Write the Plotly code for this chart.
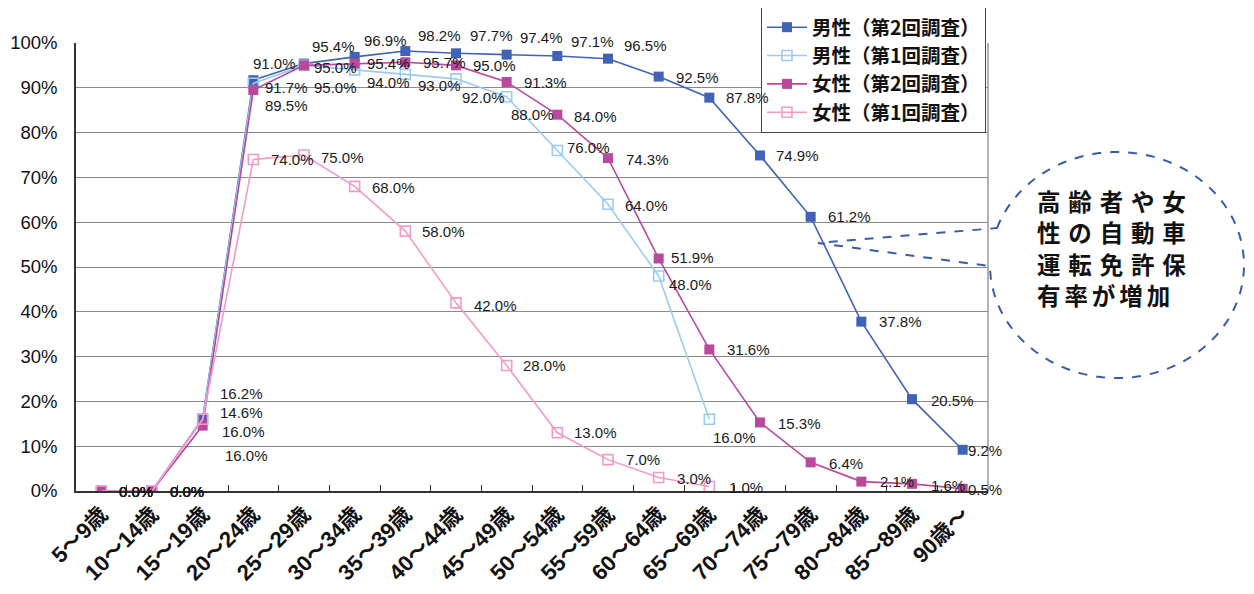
import numpy as np
import plotly.graph_objects as go

# ---------------- data ----------------
categories = ["5～9歳", "10～14歳", "15～19歳", "20～24歳", "25～29歳", "30～34歳",
              "35～39歳", "40～44歳", "45～49歳", "50～54歳", "55～59歳", "60～64歳",
              "65～69歳", "70～74歳", "75～79歳", "80～84歳", "85～89歳", "90歳～"]
male_2nd = [0.0, 0.0, 16.2, 91.7, 95.4, 96.9, 98.2, 97.7, 97.4, 97.1, 96.5, 92.5,
            87.8, 74.9, 61.2, 37.8, 20.5, 9.2]
male_1st = [0.0, 0.0, 16.0, 91.0, 95.0, 94.0, 93.0, 92.0, 88.0, 76.0, 64.0, 48.0, 16.0]
female_2nd = [0.0, 0.0, 14.6, 89.5, 95.0, 95.4, 95.7, 95.0, 91.3, 84.0, 74.3, 51.9,
              31.6, 15.3, 6.4, 2.1, 1.6, 0.5]
female_1st = [0.0, 0.0, 16.0, 74.0, 75.0, 68.0, 58.0, 42.0, 28.0, 13.0, 7.0, 3.0, 1.0]
series_names = ["男性（第2回調査）", "男性（第1回調査）", "女性（第2回調査）", "女性（第1回調査）"]
y_tick_values = [0, 10, 20, 30, 40, 50, 60, 70, 80, 90, 100]
callout_lines = ["高齢者や女", "性の自動車", "運転免許保", "有率が増加"]

# ---------------- styling / label placement (screen pixels) ----------------
OFF = 8                      # default page body margin
W, H = 1254 - OFF, 594 - OFF
PLOT_L, PLOT_R, PLOT_T, PLOT_B = 76, 988, 43, 491   # target plot box on screen
L, T = PLOT_L - OFF, PLOT_T - OFF
R, B = W - (PLOT_R - OFF), H - (PLOT_B - OFF)
PW, PH = PLOT_R - PLOT_L, PLOT_B - PLOT_T

def px2paper(px, py):
    return (px - PLOT_L) / PW, (PLOT_B - py) / PH

colors = ["#4062B7", "#9CCBEE", "#B9499C", "#F39AC7"]
symbols = ["square", "square-open", "square", "square-open"]

# label offsets (dx right, dy down) relative to the marker, default (15, 0)
offs_m2 = {0: (17, 0), 1: (17, 0), 2: (16, -25), 3: (11, 7), 4: (7, -17), 5: (8, -16),
           6: (12, -16), 7: (13, -18), 8: (12, -17), 9: (13, -14), 10: (15, -13),
           11: (16, 1), 12: (16, 0), 13: (15, 0), 14: (16, 0), 15: (17, 0), 16: (18, 1),
           17: (4, 1)}
offs_m1 = {0: (17, 0), 1: (17, 0), 2: (18, 12), 3: (-1, -20), 4: (9, 22), 5: (11, 13),
           6: (12, 11), 7: (5, 19), 8: (3, 18), 9: (9, -3), 10: (16, 1), 11: (9, 9),
           12: (3, 18)}
offs_f2 = {0: (17, 0), 1: (17, 0), 2: (16, -13), 3: (11, 15), 4: (9, 2), 5: (11, 0),
           6: (17, 0), 7: (16, 0), 8: (16, 1), 9: (16, 2), 10: (17, 1), 11: (11, -1),
           12: (17, 0), 13: (17, 1), 14: (17, 1), 15: (18, 0), 16: (18, 2), 17: (4, 1)}
offs_f1 = {0: (17, 0), 1: (17, 0), 2: (21, 36), 3: (17, 0), 4: (16, 2), 5: (16, 1),
           6: (16, 0), 7: (17, 3), 8: (15, 0), 9: (16, 0), 10: (17, 0), 11: (17, 1),
           12: (19, 1)}

all_series = [male_2nd, male_1st, female_2nd, female_1st]
all_offs = [offs_m2, offs_m1, offs_f2, offs_f1]

fig = go.Figure()
for k, (vals, name) in enumerate(zip(all_series, series_names)):
    filled = symbols[k] == "square"
    fig.add_trace(go.Scatter(
        x=categories[:len(vals)], y=vals, name=name, mode="lines+markers",
        line=dict(color=colors[k], width=1.6),
        marker=dict(symbol=symbols[k], size=10, color=colors[k],
                    line=dict(color=colors[k], width=1.6 if not filled else 0)),
        legendrank=k + 1, legendgroup=f"g{k}",
    ))

label_font = dict(family="Liberation Sans, Arial, sans-serif", size=15, color="#1a1a1a")
for vals, offs in zip(all_series, all_offs):
    for i, v in enumerate(vals):
        dx, dy = offs.get(i, (15, 0))
        fig.add_annotation(x=categories[i], y=v, text=f"{v:.1f}%", showarrow=False,
                           xanchor="left", yanchor="middle", xshift=dx, yshift=-dy,
                           borderpad=0, font=label_font)

# callout balloon (dashed)
cx, cy, rx, ry = 1117, 265, 127, 113
tA = np.pi + 0.333
tB = 3 * np.pi - 0.01
ts = np.linspace(tA, tB, 120)
pts = [(cx + rx * np.cos(t), cy + ry * np.sin(t)) for t in ts]
pts.append((818, 243))
path = ""
for j, (px, py) in enumerate(pts):
    xp, yp = px2paper(px, py)
    path += ("M" if j == 0 else " L") + f"{xp:.5f},{yp:.5f}"
path += " Z"
fig.add_shape(type="path", path=path, xref="paper", yref="paper",
              line=dict(color="#3A5BAA", width=2, dash="dash"), fillcolor="rgba(0,0,0,0)")

line_y = [201, 232, 264, 295]
for j, t in enumerate(callout_lines):
    txt = "\u2006".join(t) if j == 3 else "\u2004".join(t)
    xp, yp = px2paper(1036, line_y[j])
    fig.add_annotation(x=xp, y=yp, xref="paper", yref="paper", text=txt, showarrow=False,
                       xanchor="left", yanchor="middle", align="left", borderpad=0,
                       font=dict(family="Noto Sans CJK JP", size=23.5, color="#111111",
                                 weight="bold"))

# right border line
fig.add_shape(type="line", xref="paper", yref="paper", x0=1, x1=1, y0=0, y1=1,
              line=dict(color="#999999", width=1.5))

fig.update_layout(
    width=W, height=H, margin=dict(l=L, r=R, t=T, b=B, pad=0, autoexpand=False),
    plot_bgcolor="white", paper_bgcolor="white",
    showlegend=True,
    legend=dict(x=px2paper(986, 0)[0], xanchor="right", y=px2paper(0, 7)[1], yanchor="top",
                bgcolor="white", bordercolor="#444444", borderwidth=1,
                font=dict(family="Noto Sans CJK JP", size=19.5, color="#111111", weight="bold"),
                itemwidth=40, traceorder="grouped", tracegroupgap=0),
    xaxis=dict(type="category", categoryorder="array", categoryarray=categories,
               range=[-0.5, len(categories) - 0.5], tickson="boundaries",
               ticks="inside", ticklen=6, tickcolor="#333333", tickwidth=1,
               showline=True, linecolor="#333333", linewidth=1.5, showgrid=False,
               tickangle=-45, automargin=False,
               tickfont=dict(family="Liberation Sans, Noto Sans CJK JP", size=22,
                             color="#111111", weight="bold")),
    yaxis=dict(range=[0, 100], tickvals=y_tick_values,
               ticktext=[f"{v}%" for v in y_tick_values], automargin=False,
               showgrid=True, gridcolor="#8a8a8a", gridwidth=1.3,
               showline=True, linecolor="#333333", linewidth=1.5, zeroline=False,
               ticks="", ticklabelstandoff=13,
               tickfont=dict(family="Liberation Sans, Arial", size=18.5, color="#111111")),
)

fig.write_html("out.html")
